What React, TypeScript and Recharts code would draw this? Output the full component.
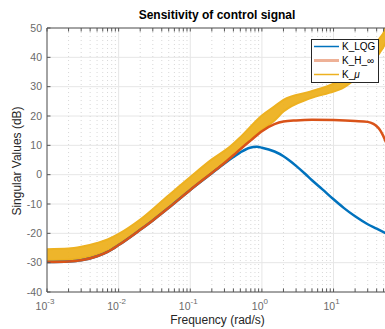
import React from 'react';
import { ComposedChart, Line, Area, XAxis, YAxis, CartesianGrid, Legend } from 'recharts';

// Frequency range of the singular value plot (rad/s)
const FREQ_MIN = 0.001;
const FREQ_MAX = 54;

// Decade ticks and their exponents
const X_MAJOR = [0.001, 0.01, 0.1, 1, 10];
const X_EXP = ['-3', '-2', '-1', '0', '1'];
const Y_TICKS = [-40, -30, -20, -10, 0, 10, 20, 30, 40, 50];

// K_LQG singular values
const lqgFreq = [0.001, 0.002, 0.003, 0.005, 0.007, 0.01, 0.02, 0.03, 0.05, 0.1, 0.2, 0.3, 0.4, 0.5, 0.68, 0.85, 1, 1.5, 2, 2.5, 3, 4, 5, 7, 10, 14, 20, 30, 40, 54];
const lqgDb = [-29.8, -29.6, -29.2, -27.8, -26.3, -24.0, -18.8, -15.6, -11.3, -5.2, 0.5, 3.8, 6.0, 7.6, 9.2, 9.5, 9.2, 7.9, 6.3, 4.6, 3.0, 0.3, -1.9, -5.0, -8.4, -11.4, -14.2, -16.9, -18.4, -20.0];

// K_H_inf singular values
const hinfFreq = [0.001, 0.002, 0.003, 0.005, 0.007, 0.01, 0.02, 0.03, 0.05, 0.1, 0.2, 0.3, 0.4, 0.5, 0.7, 1, 1.5, 2, 3, 5, 10, 20, 30, 36, 40, 44, 48, 52, 54];
const hinfDb = [-29.8, -29.6, -29.2, -27.8, -26.3, -24.0, -18.8, -15.6, -11.3, -5.2, 0.6, 4.0, 6.6, 8.7, 11.7, 14.8, 17.2, 18.1, 18.5, 18.7, 18.6, 18.3, 18.0, 17.3, 16.5, 15.4, 13.8, 12.0, 11.0];

// K_mu singular values: envelope of the sampled responses
const muFreq = [0.001, 0.002, 0.003, 0.005, 0.007, 0.01, 0.02, 0.05, 0.1, 0.2, 0.36, 0.5, 1, 1.5, 2, 4.7, 10, 13, 20, 30, 44, 52, 54];
const muLow = [-29.3, -29.0, -28.5, -27.2, -25.9, -23.7, -18.5, -11.0, -5.0, 0.8, 5.4, 8.7, 15.2, 18.5, 21.5, 26.0, 28.3, 29.3, 32.5, 36.5, 41.5, 44.5, 45.5];
const muHigh = [-25.4, -25.2, -24.6, -23.3, -22.1, -20.2, -15.3, -7.0, -0.8, 5.2, 9.6, 12.8, 20.2, 23.3, 25.5, 28.3, 31.0, 32.5, 36.5, 40.5, 46.5, 49.5, 51.0];

const BLUE = '#0072BD';
const ORANGE = '#D95319';
const YELLOW = '#EDB120';
const AXIS = '#555555';
const TICK_TEXT = '#6a6a6a';
const LABEL_TEXT = '#262626';
const FONT = '"Liberation Sans", Arial, Helvetica, sans-serif';

const legendItems = [
  { name: 'K_LQG', color: BLUE, width: 1.5, opacity: 1, italicTail: '' },
  { name: 'K_H_∞', color: ORANGE, width: 3, opacity: 0.45, italicTail: '' },
  { name: 'K_', color: YELLOW, width: 1.5, opacity: 1, italicTail: 'μ' },
];

const lqgData = lqgFreq.map((f, i) => ({ f, v: lqgDb[i] }));
const hinfData = hinfFreq.map((f, i) => ({ f, v: hinfDb[i] }));
const muData = muFreq.map((f, i) => ({ f, band: [muLow[i], muHigh[i]] }));

// Minor ticks at 2..9 within each decade
const X_MINOR: number[] = [];
for (const d of X_MAJOR) {
  for (let m = 2; m <= 9; m++) {
    const v = +(d * m).toPrecision(3);
    if (v <= FREQ_MAX) X_MINOR.push(v);
  }
}
const X_ALL = [...X_MAJOR, ...X_MINOR].sort((a, b) => a - b);

const majorIndex = (v: number) => X_MAJOR.findIndex((m) => Math.abs(m - v) / m < 1e-6);

const BottomTick = (props: any) => {
  const { x, y, payload } = props;
  const i = majorIndex(payload.value);
  return (
    <g>
      <line x1={x} x2={x} y1={y} y2={y - 3.5} stroke={AXIS} strokeWidth={1} />
      {i >= 0 && (
        <text x={x - 2} y={y + 18} textAnchor="middle" fontSize={10.5} fill={TICK_TEXT} fontFamily={FONT}>
          <tspan>10</tspan>
          <tspan dy={-6} fontSize={8}>{X_EXP[i]}</tspan>
        </text>
      )}
    </g>
  );
};

const TopTick = (props: any) => {
  const { x, y } = props;
  return <line x1={x} x2={x} y1={y} y2={y + 3.5} stroke={AXIS} strokeWidth={1} />;
};

const LeftTick = (props: any) => {
  const { x, y, payload } = props;
  return (
    <g>
      <line x1={x} x2={x + 3.5} y1={y} y2={y} stroke={AXIS} strokeWidth={1} />
      <text x={x - 5} y={y + 3.7} textAnchor="end" fontSize={10.5} fill={TICK_TEXT} fontFamily={FONT}>
        {payload.value}
      </text>
    </g>
  );
};

const XLabel = (props: any) => {
  const { viewBox } = props;
  const cx = viewBox.x + viewBox.width / 2 + 1;
  return (
    <text x={cx} y={viewBox.y + 32} textAnchor="middle" fontSize={12} fill={LABEL_TEXT} fontFamily={FONT}>
      Frequency (rad/s)
    </text>
  );
};

const YLabel = (props: any) => {
  const { viewBox } = props;
  const cy = viewBox.y + viewBox.height / 2 + 1;
  const lx = 21;
  return (
    <text
      x={lx}
      y={cy}
      transform={`rotate(-90, ${lx}, ${cy})`}
      textAnchor="middle"
      fontSize={12}
      fill={LABEL_TEXT}
      fontFamily={FONT}
    >
      Singular Values (dB)
    </text>
  );
};

const LegendBox = () => (
  <svg width={68} height={44} style={{ display: 'block' }}>
    <rect x={0.5} y={0.5} width={67} height={43} fill="#ffffff" stroke="#262626" strokeWidth={1} />
    {legendItems.map((item, i) => {
      const cy = 7.5 + i * 14;
      return (
        <g key={item.name + i}>
          <line x1={3} x2={28} y1={cy} y2={cy} stroke={item.color} strokeWidth={item.width} strokeOpacity={item.opacity} />
          <text x={31} y={cy + 3.5} fontSize={10} fill="#000" fontFamily={FONT}>
            {item.name}
            {item.italicTail && <tspan fontStyle="italic">{item.italicTail}</tspan>}
          </text>
        </g>
      );
    })}
  </svg>
);

export default function App() {
  return (
    <div style={{ position: 'absolute', left: 0, top: 0, width: 385, height: 329, overflow: 'hidden', background: '#fff' }}>
      <ComposedChart width={386} height={329} margin={{ top: 0, right: 0, bottom: 0, left: 0 }}>
        <CartesianGrid vertical={false} stroke="#e6e6e6" />
        <CartesianGrid horizontal={false} verticalValues={X_MAJOR} stroke="#e6e6e6" />
        <CartesianGrid horizontal={false} verticalValues={X_MINOR} stroke="#d8d8d8" strokeDasharray="1 3" />
        <XAxis
          dataKey="f"
          type="number"
          scale="log"
          domain={[FREQ_MIN, FREQ_MAX]}
          allowDataOverflow
          ticks={X_ALL}
          interval={0}
          tickSize={0}
          tickMargin={0}
          tick={<BottomTick />}
          axisLine={{ stroke: AXIS }}
          height={37}
          label={<XLabel />}
        />
        <XAxis
          xAxisId="top"
          orientation="top"
          dataKey="f"
          type="number"
          scale="log"
          domain={[FREQ_MIN, FREQ_MAX]}
          allowDataOverflow
          ticks={X_ALL}
          interval={0}
          tickSize={0}
          tickMargin={0}
          tick={<TopTick />}
          axisLine={{ stroke: AXIS }}
          height={28}
        />
        <YAxis
          type="number"
          domain={[-40, 50]}
          allowDataOverflow
          ticks={Y_TICKS}
          interval={0}
          tickSize={0}
          tickMargin={0}
          tick={<LeftTick />}
          axisLine={{ stroke: AXIS }}
          width={47}
          label={<YLabel />}
        />
        <Area
          data={muData}
          dataKey="band"
          type="monotone"
          fill={YELLOW}
          fillOpacity={0.95}
          stroke={YELLOW}
          strokeWidth={2}
          isAnimationActive={false}
          dot={false}
          activeDot={false}
        />
        <Line data={lqgData} dataKey="v" type="monotone" stroke={BLUE} strokeWidth={2.5} dot={false} activeDot={false} isAnimationActive={false} />
        <Line data={hinfData} dataKey="v" type="monotone" stroke={ORANGE} strokeWidth={2.5} dot={false} activeDot={false} isAnimationActive={false} />
        <Legend
          layout="vertical"
          align="center"
          verticalAlign="middle"
          content={<LegendBox />}
          wrapperStyle={{ left: 311, top: 39, width: 68, height: 44 }}
        />
      </ComposedChart>
      <svg width={385} height={329} style={{ position: 'absolute', left: 0, top: 0, pointerEvents: 'none' }}>
        <text x={217} y={18.5} textAnchor="middle" fontSize={12} fontWeight="bold" fill="#000" fontFamily={FONT}>
          Sensitivity of control signal
        </text>
      </svg>
    </div>
  );
}
